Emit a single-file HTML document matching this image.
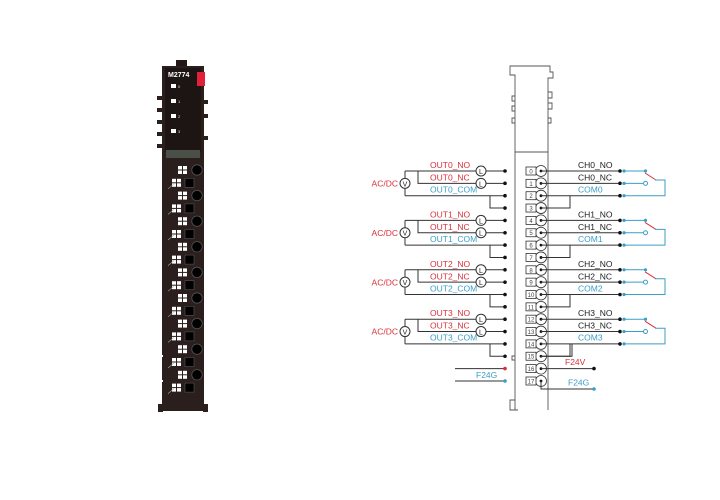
<!DOCTYPE html>
<html><head><meta charset="utf-8"><style>
html,body{margin:0;padding:0;background:#fff;width:720px;height:500px;overflow:hidden}
svg{display:block}
text{font-family:"Liberation Sans",sans-serif;font-size:8.5px}
.r{fill:#d9303a}.b{fill:#3b9ec4}.k{fill:#222}
</style></head><body>
<svg width="720" height="500" viewBox="0 0 720 500" xmlns="http://www.w3.org/2000/svg">
<defs>
<g id="ev"><rect x="178" y="-4" width="4" height="3.5" fill="#fff"/><rect x="183" y="-4" width="4" height="3.5" fill="#fff"/><rect x="178" y="0.5" width="4" height="3.5" fill="#fff"/><rect x="183" y="0.5" width="4" height="3.5" fill="#fff"/><circle cx="197" cy="0" r="5.2" fill="#000" stroke="#555" stroke-width="0.8"/></g>
<g id="od"><rect x="172" y="-4" width="4" height="3.5" fill="#fff"/><rect x="177" y="-4" width="4" height="3.5" fill="#fff"/><rect x="172" y="0.5" width="4" height="3.5" fill="#fff"/><rect x="177" y="0.5" width="4" height="3.5" fill="#fff"/><rect x="185" y="-4.5" width="9" height="9" fill="#000" stroke="#555" stroke-width="0.6"/><line x1="168" y1="6" x2="174" y2="1" stroke="#aaa" stroke-width="0.6"/></g>
<g id="grp">
 <line x1="405" y1="0" x2="405" y2="7.35" stroke="#333"/><line x1="405" y1="17.35" x2="405" y2="24.7" stroke="#333"/>
 <circle cx="405" cy="12.35" r="5" fill="#fff" stroke="#333"/>
 <text x="405" y="15.3" text-anchor="middle" style="font-size:7px" class="k">V</text>
 <polyline points="405,0 476,0" fill="none" stroke="#333"/>
 <polyline points="418,0 418,12.35 476,12.35" fill="none" stroke="#333"/>
 <circle cx="481" cy="0" r="5" fill="#fff" stroke="#333"/><text x="481" y="3" text-anchor="middle" style="font-size:7px" class="k">L</text>
 <circle cx="481" cy="12.35" r="5" fill="#fff" stroke="#333"/><text x="481" y="15.3" text-anchor="middle" style="font-size:7px" class="k">L</text>
 <line x1="486" y1="0" x2="505" y2="0" stroke="#333"/><line x1="486" y1="12.35" x2="505" y2="12.35" stroke="#333"/>
 <line x1="405" y1="24.7" x2="505" y2="24.7" stroke="#333"/>
 <polyline points="490,24.7 490,37.05 505,37.05" fill="none" stroke="#333"/>
 <circle cx="505" cy="0" r="1.8" fill="#111"/><circle cx="505" cy="12.35" r="1.8" fill="#111"/><circle cx="505" cy="24.7" r="1.8" fill="#111"/><circle cx="505" cy="37.05" r="1.8" fill="#111"/>
 <g fill="#fff" stroke="#333" stroke-width="0.8">
  <circle cx="541" cy="0" r="5.5"/><circle cx="541" cy="12.35" r="5.5"/><circle cx="541" cy="24.7" r="5.5"/><circle cx="541" cy="37.05" r="5.5"/>
  <rect x="526" y="-4" width="10" height="8"/><rect x="526" y="8.35" width="10" height="8"/><rect x="526" y="20.7" width="10" height="8"/><rect x="526" y="33.05" width="10" height="8"/>
 </g>
 <g fill="#111"><circle cx="541" cy="0" r="1.4"/><circle cx="541" cy="12.35" r="1.4"/><circle cx="541" cy="24.7" r="1.4"/><circle cx="541" cy="37.05" r="1.4"/></g>
 <line x1="541" y1="0" x2="621" y2="0" stroke="#333"/>
 <line x1="541" y1="12.35" x2="621" y2="12.35" stroke="#333"/>
 <line x1="541" y1="24.7" x2="621" y2="24.7" stroke="#333"/>
 <polyline points="541,37.05 570,37.05 570,24.7" fill="none" stroke="#333"/>
 <line x1="623" y1="0" x2="645" y2="0" stroke="#3b9ec4"/>
 <line x1="623" y1="12.35" x2="643" y2="12.35" stroke="#3b9ec4"/>
 <circle cx="645.5" cy="12.35" r="2" fill="#fff" stroke="#3b9ec4"/>
 <line x1="645" y1="2" x2="656" y2="9" stroke="#d9303a"/>
 <polyline points="655,9 665,9 665,24.7 623,24.7" fill="none" stroke="#3b9ec4"/>
 <g fill="#111"><circle cx="620" cy="0" r="1.8"/><circle cx="620" cy="12.35" r="1.8"/><circle cx="620" cy="24.7" r="1.8"/></g>
 <g fill="#3b9ec4"><circle cx="624" cy="0" r="1.6"/><circle cx="624" cy="12.35" r="1.6"/><circle cx="624" cy="24.7" r="1.6"/><circle cx="645.5" cy="0" r="1.6"/></g>
 <text x="398" y="15.5" text-anchor="end" class="r">AC/DC</text>
</g>
</defs>

<!-- device -->
<rect x="176" y="60" width="11" height="9" fill="#231815"/>
<rect x="162" y="66" width="42" height="345" fill="#2a1f1c"/>
<rect x="165" y="68" width="36" height="84" fill="#1d1513"/>
<rect x="197" y="72" width="8" height="14" fill="#e2203a"/>
<rect x="166" y="150" width="34" height="8" fill="#4a4f48"/>
<text x="168" y="77" fill="#fff" style="font-size:7px;font-weight:bold">M2774</text>
<g fill="#fff"><rect x="171" y="84" width="5" height="4"/><rect x="171" y="99" width="5" height="4"/><rect x="171" y="114" width="5" height="4"/><rect x="171" y="129" width="5" height="4"/></g>
<g fill="#ddd"><text x="178" y="88" style="font-size:4px">0</text><text x="178" y="103" style="font-size:4px">1</text><text x="178" y="118" style="font-size:4px">2</text><text x="178" y="133" style="font-size:4px">3</text></g>
<g fill="#2a1f1c"><rect x="157" y="96" width="6" height="4"/><rect x="157" y="108" width="6" height="4"/><rect x="157" y="120" width="6" height="4"/><rect x="157" y="132" width="6" height="4"/><rect x="157" y="144" width="6" height="4"/><rect x="203" y="100" width="5" height="4"/><rect x="203" y="114" width="5" height="4"/><rect x="203" y="136" width="5" height="4"/><rect x="158" y="404" width="5" height="8"/><rect x="203" y="404" width="5" height="8"/></g>
<g fill="#fff"><rect x="158" y="355" width="5" height="2"/><rect x="158" y="380" width="5" height="2"/><rect x="204" y="355" width="3" height="2"/><rect x="204" y="380" width="3" height="2"/></g>
<use href="#ev" y="170"/><use href="#od" y="182.8"/><use href="#ev" y="195.6"/><use href="#od" y="208.4"/><use href="#ev" y="221.2"/><use href="#od" y="234"/><use href="#ev" y="246.8"/><use href="#od" y="259.6"/><use href="#ev" y="272.4"/><use href="#od" y="285.2"/><use href="#ev" y="298"/><use href="#od" y="310.8"/><use href="#ev" y="323.6"/><use href="#od" y="336.4"/><use href="#ev" y="349.2"/><use href="#od" y="362"/><use href="#ev" y="374.8"/><use href="#od" y="387.6"/>

<!-- module outline -->
<g fill="none" stroke="#555" stroke-width="0.9">
<polyline points="515,410 515,75 510,75 510,66 550,66 550,72 553,72 553,78 548,78 548,410"/>
<line x1="515" y1="152" x2="548" y2="152"/>
<polyline points="515,96 512,96 512,101 515,101"/><polyline points="515,106 512,106 512,111 515,111"/>
<polyline points="548,92 552,92 552,98 548,98"/><polyline points="548,103 552,103 552,109 548,109"/>
<polyline points="515,118 512,118 512,123 515,123 M515,128 512,128 512,133 515,133 M515,138 512,138 512,143 515,143 M515,148 512,148 512,153 515,153"/>
<polyline points="548,118 551,118 551,123 548,123 M548,128 551,128 551,133 548,133 M548,138 551,138 551,143 548,143 M548,148 551,148 551,153 548,153"/>
<polyline points="515,356 512,356 512,360 515,360 M515,378 512,378 512,382 515,382 M548,356 551,356 551,360 548,360 M548,378 551,378 551,382 548,382"/>
<polyline points="515,400 510,400 510,410 518,410 M548,400 553,400 553,410 545,410 M518,410 518,404 545,404 545,410"/>
</g>

<use href="#grp" y="171"/><use href="#grp" y="220.4"/><use href="#grp" y="269.8"/><use href="#grp" y="319.2"/>

<!-- labels -->
<g>
<text x="430" y="168" class="r">OUT0_NO</text><text x="430" y="180.5" class="r">OUT0_NC</text><text x="430" y="192.5" class="b">OUT0_COM</text>
<text x="430" y="217.4" class="r">OUT1_NO</text><text x="430" y="229.9" class="r">OUT1_NC</text><text x="430" y="241.9" class="b">OUT1_COM</text>
<text x="430" y="266.8" class="r">OUT2_NO</text><text x="430" y="279.3" class="r">OUT2_NC</text><text x="430" y="291.3" class="b">OUT2_COM</text>
<text x="430" y="316.2" class="r">OUT3_NO</text><text x="430" y="328.7" class="r">OUT3_NC</text><text x="430" y="340.7" class="b">OUT3_COM</text>
<text x="578" y="168" class="k">CH0_NO</text><text x="578" y="180.5" class="k">CH0_NC</text><text x="578" y="192.5" class="b">COM0</text>
<text x="578" y="217.4" class="k">CH1_NO</text><text x="578" y="229.9" class="k">CH1_NC</text><text x="578" y="241.9" class="b">COM1</text>
<text x="578" y="266.8" class="k">CH2_NO</text><text x="578" y="279.3" class="k">CH2_NC</text><text x="578" y="291.3" class="b">COM2</text>
<text x="578" y="316.2" class="k">CH3_NO</text><text x="578" y="328.7" class="k">CH3_NC</text><text x="578" y="340.7" class="b">COM3</text>
</g>
<g text-anchor="middle" fill="#444">
<text x="531" y="173.5" style="font-size:6px">0</text><text x="531" y="185.8" style="font-size:6px">1</text><text x="531" y="198.2" style="font-size:6px">2</text><text x="531" y="210.5" style="font-size:6px">3</text>
<text x="531" y="222.9" style="font-size:6px">4</text><text x="531" y="235.2" style="font-size:6px">5</text><text x="531" y="247.6" style="font-size:6px">6</text><text x="531" y="259.9" style="font-size:6px">7</text>
<text x="531" y="272.3" style="font-size:6px">8</text><text x="531" y="284.6" style="font-size:6px">9</text><text x="531" y="297" style="font-size:6px">10</text><text x="531" y="309.3" style="font-size:6px">11</text>
<text x="531" y="321.7" style="font-size:6px">12</text><text x="531" y="334" style="font-size:6px">13</text><text x="531" y="346.4" style="font-size:6px">14</text><text x="531" y="358.7" style="font-size:6px">15</text>
</g>
<g fill="#fff" stroke="#333" stroke-width="0.8">
<circle cx="541" cy="368.6" r="5.5"/><circle cx="541" cy="381" r="5.5"/>
<rect x="526" y="364.6" width="10" height="8"/><rect x="526" y="377" width="10" height="8"/>
</g>
<text x="531" y="371" text-anchor="middle" fill="#444" style="font-size:6px">16</text>
<text x="531" y="383.4" text-anchor="middle" fill="#444" style="font-size:6px">17</text>
<circle cx="541" cy="368.6" r="1.4" fill="#111"/><circle cx="541" cy="381" r="1.4" fill="#111"/>
<polyline points="541,356.3 572,356.3 572,343.9" fill="none" stroke="#333"/>
<line x1="541" y1="368.6" x2="594" y2="368.6" stroke="#333"/><circle cx="594" cy="368.6" r="1.8" fill="#111"/>
<polyline points="541,381 541,389 594,389" fill="none" stroke="#333"/><circle cx="594" cy="389" r="1.8" fill="#3b9ec4"/>
<text x="565" y="365" class="r">F24V</text><text x="568" y="385.5" class="b">F24G</text>
<line x1="455" y1="368.6" x2="505" y2="368.6" stroke="#333"/><circle cx="505" cy="368.6" r="1.8" fill="#d9303a"/>
<line x1="455" y1="381" x2="505" y2="381" stroke="#333"/><circle cx="505" cy="381" r="1.8" fill="#3b9ec4"/>
<text x="476" y="378" class="b">F24G</text>
</svg>
</body></html>
